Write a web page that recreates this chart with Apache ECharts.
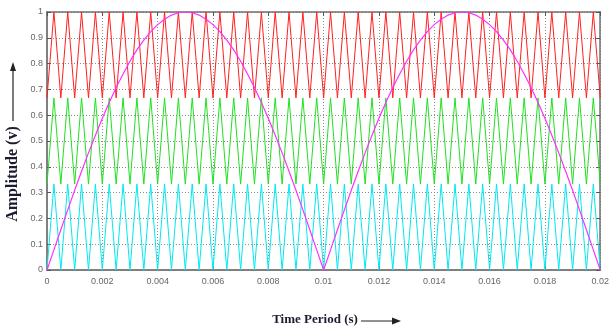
<!DOCTYPE html>
<html>
<head>
<meta charset="utf-8">
<script src="https://cdn.jsdelivr.net/npm/echarts@6/dist/echarts.min.js"></script>
<style>html,body{margin:0;padding:0;background:#fff;}#c{width:612px;height:329px;}</style>
</head>
<body>
<div id="c"></div>
<script>
// Time samples (s)
var time = [
  0, 0.00025, 0.0005, 0.00075, 0.001, 0.00125, 0.0015, 0.00175,
  0.002, 0.00225, 0.0025, 0.00275, 0.003, 0.00325, 0.0035, 0.00375,
  0.004, 0.00425, 0.0045, 0.00475, 0.005, 0.00525, 0.0055, 0.00575,
  0.006, 0.00625, 0.0065, 0.00675, 0.007, 0.00725, 0.0075, 0.00775,
  0.008, 0.00825, 0.0085, 0.00875, 0.009, 0.00925, 0.0095, 0.00975,
  0.01, 0.01025, 0.0105, 0.01075, 0.011, 0.01125, 0.0115, 0.01175,
  0.012, 0.01225, 0.0125, 0.01275, 0.013, 0.01325, 0.0135, 0.01375,
  0.014, 0.01425, 0.0145, 0.01475, 0.015, 0.01525, 0.0155, 0.01575,
  0.016, 0.01625, 0.0165, 0.01675, 0.017, 0.01725, 0.0175, 0.01775,
  0.018, 0.01825, 0.0185, 0.01875, 0.019, 0.01925, 0.0195, 0.01975,
  0.02
];
// Upper carrier (red)
var redCarrier = [
  0.667,1,0.667,1,0.667,1,0.667,1,0.667,1,0.667,1,0.667,1,0.667,1,
  0.667,1,0.667,1,0.667,1,0.667,1,0.667,1,0.667,1,0.667,1,0.667,1,
  0.667,1,0.667,1,0.667,1,0.667,1,0.667,1,0.667,1,0.667,1,0.667,1,
  0.667,1,0.667,1,0.667,1,0.667,1,0.667,1,0.667,1,0.667,1,0.667,1,
  0.667,1,0.667,1,0.667,1,0.667,1,0.667,1,0.667,1,0.667,1,0.667,1,
  0.667
];
// Middle carrier (green)
var greenCarrier = [
  0.333,0.667,0.333,0.667,0.333,0.667,0.333,0.667,0.333,0.667,0.333,0.667,0.333,0.667,0.333,0.667,
  0.333,0.667,0.333,0.667,0.333,0.667,0.333,0.667,0.333,0.667,0.333,0.667,0.333,0.667,0.333,0.667,
  0.333,0.667,0.333,0.667,0.333,0.667,0.333,0.667,0.333,0.667,0.333,0.667,0.333,0.667,0.333,0.667,
  0.333,0.667,0.333,0.667,0.333,0.667,0.333,0.667,0.333,0.667,0.333,0.667,0.333,0.667,0.333,0.667,
  0.333,0.667,0.333,0.667,0.333,0.667,0.333,0.667,0.333,0.667,0.333,0.667,0.333,0.667,0.333,0.667,
  0.333
];
// Lower carrier (cyan)
var cyanCarrier = [
  0,0.333,0,0.333,0,0.333,0,0.333,0,0.333,0,0.333,0,0.333,0,0.333,
  0,0.333,0,0.333,0,0.333,0,0.333,0,0.333,0,0.333,0,0.333,0,0.333,
  0,0.333,0,0.333,0,0.333,0,0.333,0,0.333,0,0.333,0,0.333,0,0.333,
  0,0.333,0,0.333,0,0.333,0,0.333,0,0.333,0,0.333,0,0.333,0,0.333,
  0,0.333,0,0.333,0,0.333,0,0.333,0,0.333,0,0.333,0,0.333,0,0.333,
  0
];
// Rectified reference (magenta)
var reference = [
  0,0.078,0.156,0.233,0.309,0.383,0.454,0.522,0.588,0.649,
  0.707,0.760,0.809,0.853,0.891,0.924,0.951,0.972,0.988,0.997,
  1,0.997,0.988,0.972,0.951,0.924,0.891,0.853,0.809,0.760,
  0.707,0.649,0.588,0.522,0.454,0.383,0.309,0.233,0.156,0.078,
  0,0.078,0.156,0.233,0.309,0.383,0.454,0.522,0.588,0.649,
  0.707,0.760,0.809,0.853,0.891,0.924,0.951,0.972,0.988,0.997,
  1,0.997,0.988,0.972,0.951,0.924,0.891,0.853,0.809,0.760,
  0.707,0.649,0.588,0.522,0.454,0.383,0.309,0.233,0.156,0.078,
  0
];
var xTitle = 'Time Period (s)';
var yTitle = 'Amplitude (v)';

function pairs(vals){ return time.map(function(t,i){ return [t, vals[i]]; }); }

var labelFont = '"Liberation Sans Narrow","Arial Narrow","Liberation Sans",sans-serif';
var tickStyle = {show:true, inside:true, length:4, lineStyle:{color:'#555', width:1}};
var chart = echarts.init(document.getElementById('c'), null, {renderer:'canvas'});
chart.setOption({
  animation:false,
  backgroundColor:'#fff',
  grid:{left:47, right:8, top:12, bottom:59, containLabel:false},
  xAxis:[{
    type:'value', min:0, max:0.02, interval:0.002,
    axisLine:{show:true, onZero:false, lineStyle:{color:'#808080', width:2}},
    axisTick:tickStyle,
    axisLabel:{color:'#666', fontSize:9, fontFamily:labelFont, margin:7,
      formatter:function(v){ return String(+v.toFixed(3)); }},
    splitLine:{show:true, lineStyle:{color:'#8a8a8a', type:[1,2], width:1}}
  },{
    type:'value', position:'top', min:0, max:0.02, interval:0.002,
    axisLine:{show:true, onZero:false, lineStyle:{color:'#707070', width:1.5}},
    axisTick:tickStyle, axisLabel:{show:false}, splitLine:{show:false}
  }],
  yAxis:[{
    type:'value', min:0, max:1, interval:0.1,
    axisLine:{show:true, onZero:false, lineStyle:{color:'#808080', width:2}},
    axisTick:tickStyle,
    axisLabel:{color:'#666', fontSize:9, fontFamily:labelFont, margin:4,
      formatter:function(v){ return String(+v.toFixed(1)); }},
    splitLine:{show:true, lineStyle:{color:'#8a8a8a', type:[1,2], width:1}}
  },{
    type:'value', position:'right', min:0, max:1, interval:0.1,
    axisLine:{show:true, onZero:false, lineStyle:{color:'#707070', width:1.5}},
    axisTick:tickStyle, axisLabel:{show:false}, splitLine:{show:false}
  }],
  series:[
    {type:'line', data:pairs(cyanCarrier), showSymbol:false, lineStyle:{color:'#00e8f0', width:1}, z:2},
    {type:'line', data:pairs(greenCarrier), showSymbol:false, lineStyle:{color:'#22e022', width:1}, z:2},
    {type:'line', data:pairs(redCarrier), showSymbol:false, lineStyle:{color:'#ff2020', width:1}, z:2},
    {type:'line', data:pairs(reference), showSymbol:false, lineStyle:{color:'#ff30ff', width:1.2}, z:3}
  ],
  graphic:[
    {type:'text', x:13, y:174, rotation:Math.PI/2,
      style:{text:yTitle, font:'bold 16px "Liberation Serif","Times New Roman",serif', fill:'#1c1c30', align:'center', verticalAlign:'middle'}},
    {type:'line', shape:{x1:13, y1:121, x2:13, y2:68}, style:{stroke:'#222', lineWidth:1.2}},
    {type:'polygon', shape:{points:[[13,62],[10,71],[16,71]]}, style:{fill:'#222'}},
    {type:'text', x:315, y:320,
      style:{text:xTitle, font:'bold 13px "Liberation Serif","Times New Roman",serif', fill:'#1c1c30', align:'center', verticalAlign:'middle'}},
    {type:'line', shape:{x1:361, y1:321, x2:394, y2:321}, style:{stroke:'#222', lineWidth:1.2}},
    {type:'polygon', shape:{points:[[401,321],[392,317.5],[392,324.5]]}, style:{fill:'#222'}}
  ]
});
</script>
</body>
</html>
